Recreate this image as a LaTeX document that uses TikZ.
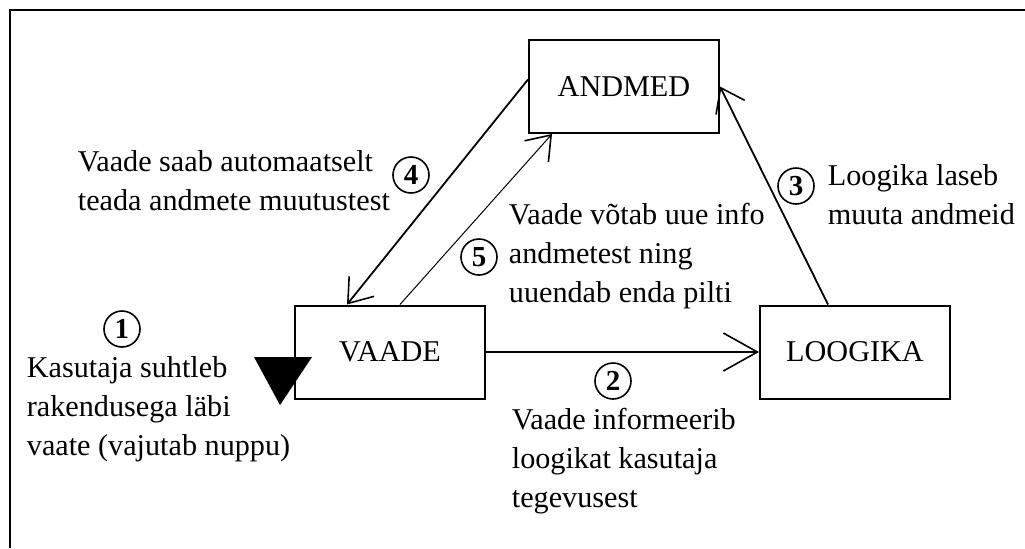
\documentclass[tikz,border=0pt]{standalone}
\usepackage{fontspec}
\setmainfont{Liberation Serif}
\usetikzlibrary{arrows.meta}

\tikzset{
  part/.style={draw,line width=1pt,minimum width=95pt,minimum height=46.5pt,inner sep=0pt},
  num/.style={draw,circle,line width=0.8pt,minimum size=18pt,inner sep=0pt,font=\fontsize{14.5}{17}\selectfont\bfseries},
  note/.style={align=left,inner sep=0pt,anchor=west},
  openhead/.style={-{Straight Barb[length=11pt,width=16pt,line width=0.8pt]}}
}

\begin{document}
\begin{tikzpicture}[x=0.5pt,y=-0.5pt,line width=0.9pt,font=\fontsize{15.1}{19.5}\selectfont]
    \useasboundingbox (0,0) rectangle (1025,548);
    \draw[line width=1pt] (10,548) -- (10,10) -- (1025,10);

    \node[part] (andmed) at (624,86.5) {ANDMED};
    \node[part] (vaade) at (390,352) {VAADE};
    \node[part] (loogika) at (855,352) {LOOGIKA};

    % user input marker
    \fill (254,357) -- (312,357) -- (280,405) -- cycle;

    \draw[openhead] ([yshift=3.5pt]andmed.west) -- ([xshift=-21.5pt]vaade.north);
    \draw[openhead,line width=0.5pt] ([xshift=5pt]vaade.north) -- ([xshift=-36pt]andmed.south);
    \draw[openhead] ([xshift=-13.5pt]loogika.north) -- (andmed.east);
    \draw[-{Straight Barb[length=17pt,width=19pt,line width=0.8pt]}] (vaade.east) -- (loogika.west);

    \node[num] (num1) at (122,329) {1};
    \node[num] (num2) at (613,381) {2};
    \node[num] (num3) at (796,186) {3};
    \node[num] (num4) at (411,175) {4};
    \node[num] (num5) at (479,257) {5};

    \node[note] (kasutaja) at (26,409) {Kasutaja suhtleb\\rakendusega läbi\\vaate (vajutab nuppu)};
    \node[note] (informeerib) at (511,461) {Vaade informeerib\\loogikat kasutaja\\tegevusest};
    \node[note] (laseb) at (827,195) {Loogika laseb\\muuta andmeid};
    \node[note] (teada) at (77,181) {Vaade saab automaatselt\\teada andmete muutustest};
    \node[note] (votab) at (508,256) {Vaade võtab uue info\\andmetest ning\\uuendab enda pilti};
  \end{tikzpicture}
\end{document}
